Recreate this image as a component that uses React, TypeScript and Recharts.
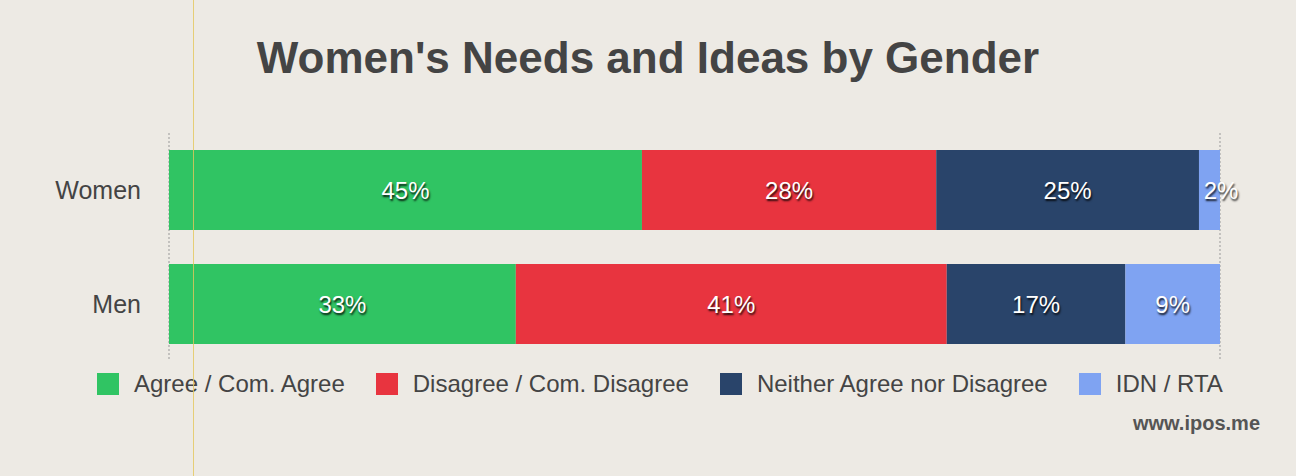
import React from 'react';
import { BarChart, Bar, XAxis, YAxis, CartesianGrid, LabelList } from 'recharts';

const categories = ['Women', 'Men'];
const agree = [45, 33];
const disagree = [28, 41];
const neither = [25, 17];
const idnRta = [2, 9];
const xTicks = [0, 25, 50, 75, 100];

const series = [
  { key: 'agree', name: 'Agree / Com. Agree', color: '#30c463' },
  { key: 'disagree', name: 'Disagree / Com. Disagree', color: '#e8343f' },
  { key: 'neither', name: 'Neither Agree nor Disagree', color: '#29446a' },
  { key: 'idn', name: 'IDN / RTA', color: '#7fa3f2' },
];

const data = categories.map((name, i) => ({
  name,
  agree: agree[i],
  disagree: disagree[i],
  neither: neither[i],
  idn: idnRta[i],
}));

const FONT = "'Helvetica Neue', Helvetica, Arial, 'Liberation Sans', sans-serif";

const renderValue = (props: any) => {
  const { x, y, width, height, value } = props;
  // small segments get a minimum label box that starts at the segment
  const w = Math.max(Number(width), 44);
  return (
    <text
      x={Number(x) + w / 2}
      y={Number(y) + Number(height) / 2}
      textAnchor="middle"
      dominantBaseline="central"
      fill="#ffffff"
      fontSize={24}
      fontFamily={FONT}
      style={{ textShadow: '1px 2px 2px rgba(0,0,0,0.85)' }}
    >
      {value}%
    </text>
  );
};

export default function App() {
  return (
    <div
      style={{
        position: 'absolute',
        left: 0,
        top: 0,
        width: 1296,
        height: 476,
        background: '#edeae4',
        overflow: 'hidden',
        fontFamily: FONT,
      }}
    >
      <div
        style={{
          position: 'absolute',
          left: 0,
          top: 33,
          width: 1296,
          textAlign: 'center',
          fontSize: 44,
          fontWeight: 700,
          color: '#444',
        }}
      >
        Women's Needs and Ideas by Gender
      </div>
      <BarChart
        width={1296}
        height={476}
        data={data}
        layout="vertical"
        margin={{ top: 133, right: 76, bottom: 115, left: 0 }}
        barSize={80}
      >
        <CartesianGrid horizontal={false} stroke="#999" strokeDasharray="2 2" />
        <XAxis
          type="number"
          domain={[0, 100]}
          ticks={xTicks}
          tick={false}
          tickLine={false}
          axisLine={false}
          height={0}
        />
        <YAxis
          type="category"
          dataKey="name"
          width={169}
          axisLine={false}
          tickLine={false}
          tickSize={0}
          tickMargin={28}
          tick={{ fill: '#444', fontSize: 25, fontFamily: FONT }}
        />
        {series.map((s) => (
          <Bar key={s.key} dataKey={s.key} name={s.name} stackId="a" fill={s.color} isAnimationActive={false}>
            <LabelList dataKey={s.key} content={renderValue} />
          </Bar>
        ))}
      </BarChart>
      <div
        style={{
          position: 'absolute',
          left: 97,
          top: 370,
          display: 'flex',
          alignItems: 'center',
          fontSize: 24,
          color: '#444',
        }}
      >
        {series.map((s, i) => (
          <div key={s.key} style={{ display: 'flex', alignItems: 'center', marginRight: i < series.length - 1 ? 31 : 0 }}>
            <span style={{ width: 22, height: 22, background: s.color, display: 'inline-block', marginRight: 15 }} />
            <span>{s.name}</span>
          </div>
        ))}
      </div>
      <div
        style={{
          position: 'absolute',
          right: 36,
          top: 412,
          fontSize: 20,
          fontWeight: 700,
          color: '#555',
        }}
      >
        www.ipos.me
      </div>
      <div style={{ position: 'absolute', left: 193, top: 0, width: 1, height: 476, background: '#e3c75a', opacity: 0.8 }} />
    </div>
  );
}
